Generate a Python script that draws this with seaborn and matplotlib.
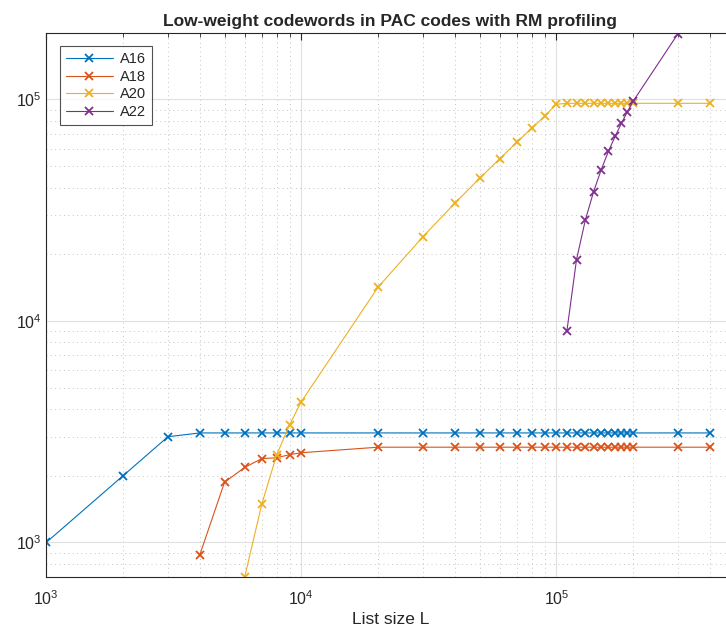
import numpy as np
import pandas as pd
import matplotlib
matplotlib.use("Agg")
import matplotlib.pyplot as plt
import seaborn as sns
from matplotlib.ticker import LogLocator, LogFormatterSciNotation, NullFormatter

# List sizes
L_A16 = [1000, 2000, 3000, 4000, 5000, 6000, 7000, 8000, 9000, 10000,
         20000, 30000, 40000, 50000, 60000, 70000, 80000, 90000, 100000,
         110000, 120000, 130000, 140000, 150000, 160000, 170000, 180000, 190000, 200000,
         300000, 400000]
L_A18 = [4000, 5000, 6000, 7000, 8000, 9000, 10000,
         20000, 30000, 40000, 50000, 60000, 70000, 80000, 90000, 100000,
         110000, 120000, 130000, 140000, 150000, 160000, 170000, 180000, 190000, 200000,
         300000, 400000]
L_A20 = [6000, 7000, 8000, 9000, 10000,
         20000, 30000, 40000, 50000, 60000, 70000, 80000, 90000, 100000,
         110000, 120000, 130000, 140000, 150000, 160000, 170000, 180000, 190000, 200000,
         300000, 400000]
L_A22 = [110000, 120000, 130000, 140000, 150000, 160000, 170000, 180000, 190000, 200000,
         300000]

# Number of low-weight codewords
A16 = [1000, 2000, 3000, 3120, 3120, 3120, 3120, 3120, 3120, 3120,
       3120, 3120, 3120, 3120, 3120, 3120, 3120, 3120, 3120,
       3120, 3120, 3120, 3120, 3120, 3120, 3120, 3120, 3120, 3120,
       3120, 3120]
A18 = [880, 1870, 2180, 2390, 2410, 2490, 2540,
       2690, 2690, 2690, 2690, 2690, 2690, 2690, 2690, 2690,
       2690, 2690, 2690, 2690, 2690, 2690, 2690, 2690, 2690, 2690,
       2690, 2690]
A20 = [700, 1490, 2480, 3400, 4320,
       14200, 24000, 34000, 44000, 54000, 64000, 74000, 84000, 95000,
       96000, 96000, 96000, 96000, 96000, 96000, 96000, 96000, 96000, 96000,
       96000, 96000]
A22 = [9000, 18900, 28600, 38300, 48200, 58200, 68000, 78000, 88000, 98000,
       198000]

series = {"A16": (L_A16, A16), "A18": (L_A18, A18),
          "A20": (L_A20, A20), "A22": (L_A22, A22)}
df = pd.concat([pd.DataFrame({"L": x, "A": y, "serie": name})
                for name, (x, y) in series.items()], ignore_index=True)

colores = ["#0072BD", "#D95319", "#EDB120", "#7E2F8E"]

sns.set_style("white")
plt.rcParams["font.family"] = ["Liberation Sans", "DejaVu Sans"]
plt.rcParams["mathtext.fontset"] = "custom"
plt.rcParams["mathtext.rm"] = "Liberation Sans"
plt.rcParams["mathtext.it"] = "Liberation Sans:italic"

fig = plt.figure(figsize=(7.26, 6.30), dpi=100)
ax = fig.add_axes([0.0638, 0.0846, 0.948, 0.8635])

sns.lineplot(data=df, x="L", y="A", hue="serie", palette=colores,
             marker="x", markersize=6, markeredgewidth=1.3, linewidth=0.8,
             estimator=None, sort=False, ax=ax, legend=False)

# las cruces deben tener el color de cada linea
for line in ax.lines:
    line.set_markeredgecolor(line.get_color())
    line.set_markerfacecolor(line.get_color())

ax.set_xscale("log")
ax.set_yscale("log")
ax.set_xlim(1e3, 5e5)
ax.set_ylim(700, 2e5)

ax.xaxis.set_major_locator(LogLocator(base=10, numticks=10))
ax.yaxis.set_major_locator(LogLocator(base=10, numticks=10))
ax.xaxis.set_minor_locator(LogLocator(base=10, subs=np.arange(2, 10), numticks=20))
ax.yaxis.set_minor_locator(LogLocator(base=10, subs=np.arange(2, 10), numticks=20))
ax.xaxis.set_major_formatter(LogFormatterSciNotation())
ax.yaxis.set_major_formatter(LogFormatterSciNotation())
ax.xaxis.set_minor_formatter(NullFormatter())
ax.yaxis.set_minor_formatter(NullFormatter())

ax.grid(which="major", color="#e0e0e0", linestyle="-", linewidth=0.8)
ax.grid(which="minor", color="#c4c4c4", linestyle=(0, (1, 3.5)), linewidth=0.7)
ax.set_axisbelow(True)

ax.tick_params(which="both", direction="in", top=True, right=True,
               colors="#262626", labelsize=11.5)
ax.tick_params(which="major", length=5, width=0.8)
ax.tick_params(which="minor", length=3, width=0.6)
ax.tick_params(axis="x", pad=9)
for s in ax.spines.values():
    s.set_color("#262626")
    s.set_linewidth(0.8)

ax.set_title("Low-weight codewords in PAC codes with RM profiling",
             fontsize=12.5, fontweight="bold", pad=5)
ax.set_xlabel("List size L", fontsize=12.5, color="#262626", labelpad=3)
ax.set_ylabel("")

handles = [plt.Line2D([0], [0], color=c, marker="x", markersize=6,
                      markeredgewidth=1.3, linewidth=0.8, label=n)
           for c, n in zip(colores, series.keys())]
leg = ax.legend(handles=handles, loc="upper left", bbox_to_anchor=(0.02, 0.975),
                fontsize=10.5, frameon=True, fancybox=False, borderpad=0.4,
                labelspacing=0.25, handlelength=3.2, handletextpad=0.5,
                borderaxespad=0)
leg.get_frame().set_edgecolor("#262626")
leg.get_frame().set_linewidth(0.8)

plt.savefig("out.png", dpi=100)
